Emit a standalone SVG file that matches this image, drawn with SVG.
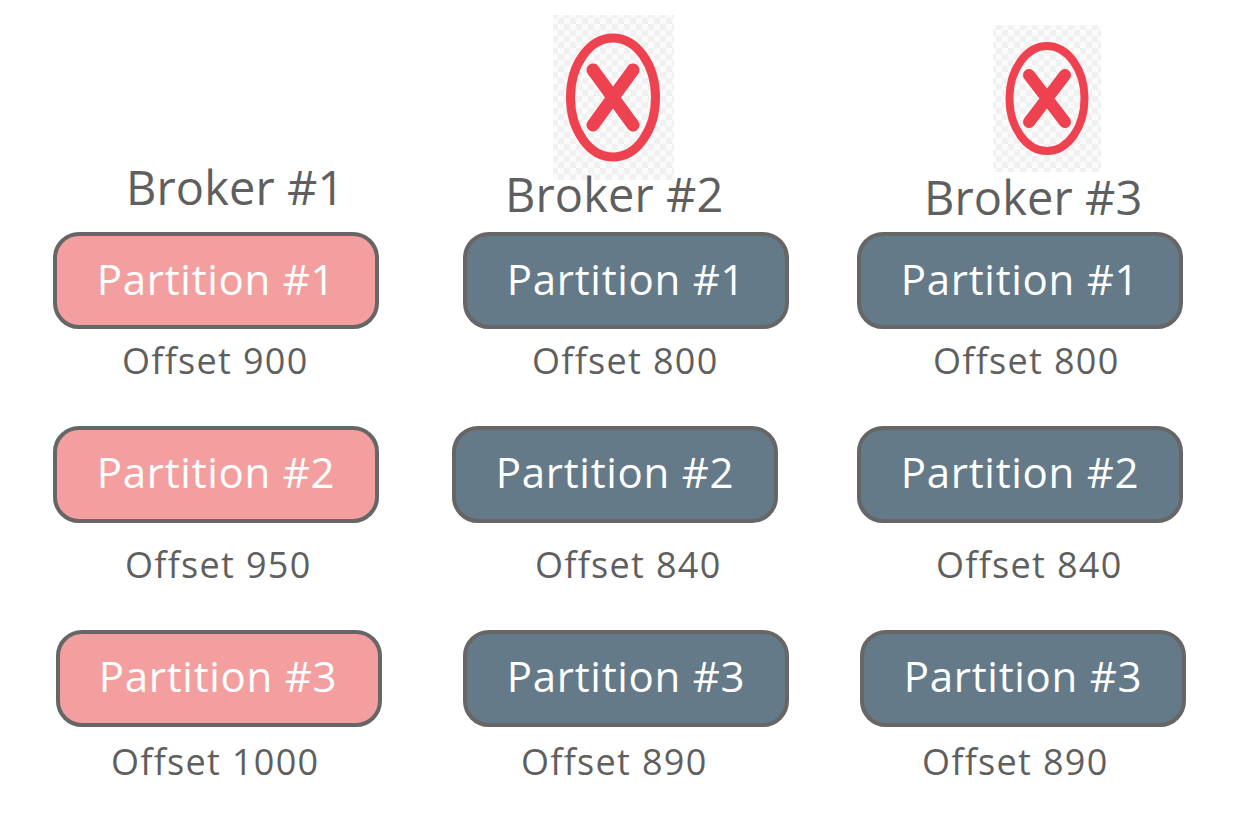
<svg xmlns="http://www.w3.org/2000/svg" width="1248" height="840" viewBox="0 0 1248 840">
<defs>
<pattern id="chk" width="12" height="12" patternUnits="userSpaceOnUse">
<rect width="12" height="12" fill="#fbfbfb"/>
<rect width="6" height="6" fill="#f1f1f1"/>
<rect x="6" y="6" width="6" height="6" fill="#f1f1f1"/>
</pattern>
</defs>
<style>
text{font-family:"Open Sans","Noto Sans","Liberation Sans",sans-serif}
.b{font-size:47px;fill:#5f5f5f;letter-spacing:.1px}
.p{font-size:42px;fill:#fff;text-anchor:middle;letter-spacing:.7px}
.o{font-size:36px;fill:#5f5f5f;letter-spacing:1.3px}
.r{stroke:#666;stroke-width:4}
.pink{fill:#f49f9f}
.blue{fill:#647a89}
.x{fill:none;stroke:#ee4250}
.bg{fill:url(#chk)}
</style>
<rect width="1248" height="840" fill="#fff"/>
<g id="x2"><rect class="bg" x="553" y="15" width="121" height="165"/><ellipse class="x" cx="613" cy="97.5" rx="42.5" ry="59.5" stroke-width="9"/><path class="x" stroke-width="13" stroke-linecap="round" d="M593 70L633 125M633 70L593 125"/></g>
<g id="x3"><rect class="bg" x="993" y="25" width="108" height="147"/><ellipse class="x" cx="1047" cy="98.5" rx="37.5" ry="52.5" stroke-width="8"/><path class="x" stroke-width="12" stroke-linecap="round" d="M1029 75L1065 122M1065 75L1029 122"/></g>
<g id="b1"><text class="b" x="126" y="205">Broker #1</text></g>
<g id="b2"><text class="b" x="505" y="212">Broker #2</text></g>
<g id="b3"><text class="b" x="924" y="215">Broker #3</text></g>
<g id="n11"><rect class="r pink" x="55" y="234" width="322" height="93" rx="24"/><text class="p" x="216" y="295">Partition #1</text></g>
<g id="n12"><rect class="r pink" x="55" y="428" width="322" height="93" rx="24"/><text class="p" x="216" y="488">Partition #2</text></g>
<g id="n13"><rect class="r pink" x="58" y="632" width="322" height="93" rx="24"/><text class="p" x="218" y="692">Partition #3</text></g>
<g id="n21"><rect class="r blue" x="465" y="234" width="322" height="93" rx="24"/><text class="p" x="626" y="295">Partition #1</text></g>
<g id="n22"><rect class="r blue" x="454" y="428" width="322" height="93" rx="24"/><text class="p" x="615" y="488">Partition #2</text></g>
<g id="n23"><rect class="r blue" x="465" y="632" width="322" height="93" rx="24"/><text class="p" x="626" y="692">Partition #3</text></g>
<g id="n31"><rect class="r blue" x="859" y="234" width="322" height="93" rx="24"/><text class="p" x="1020" y="295">Partition #1</text></g>
<g id="n32"><rect class="r blue" x="859" y="428" width="322" height="93" rx="24"/><text class="p" x="1020" y="488">Partition #2</text></g>
<g id="n33"><rect class="r blue" x="862" y="632" width="322" height="93" rx="24"/><text class="p" x="1023" y="692">Partition #3</text></g>
<g id="connectors"/>
<g id="offsets">
<text class="o" x="122" y="374">Offset 900</text>
<text class="o" x="125" y="578">Offset 950</text>
<text class="o" x="111" y="775">Offset 1000</text>
<text class="o" x="532" y="374">Offset 800</text>
<text class="o" x="535" y="578">Offset 840</text>
<text class="o" x="521" y="775">Offset 890</text>
<text class="o" x="933" y="374">Offset 800</text>
<text class="o" x="936" y="578">Offset 840</text>
<text class="o" x="922" y="775">Offset 890</text>
</g>
</svg>
